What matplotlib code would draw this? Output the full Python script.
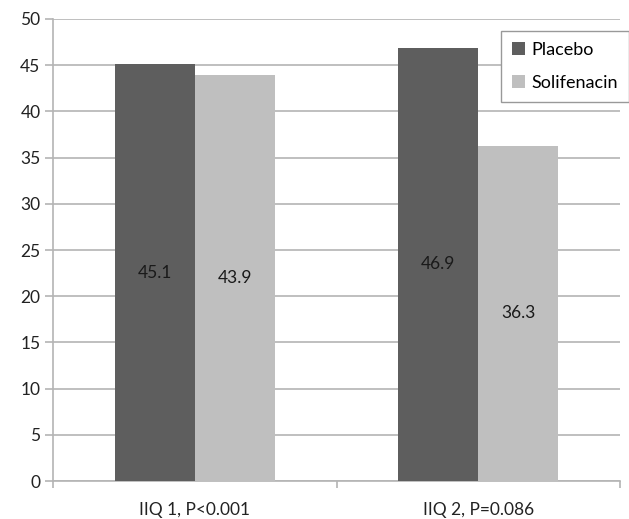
import matplotlib
matplotlib.use("Agg")
import matplotlib.pyplot as plt
import numpy as np
from matplotlib.patches import Patch

categories = ["IIQ 1, P<0.001", "IIQ 2, P=0.086"]
placebo = [45.1, 46.9]
solifenacin = [43.9, 36.3]
series_names = ["Placebo", "Solifenacin"]
yticks = [0, 5, 10, 15, 20, 25, 30, 35, 40, 45, 50]

plt.rcParams['font.family'] = ['Lato', 'DejaVu Sans']

fig = plt.figure(figsize=(6.29, 5.19), dpi=100)
ax = fig.add_axes([0.0843, 0.0732, 0.9014, 0.8902])

c_dark = "#5e5e5e"
c_light = "#bfbfbf"
grid_c = "#b4b4b4"

x = np.arange(len(categories))
w = 0.282
ax.bar(x - w/2, placebo, w, color=c_dark, zorder=3)
ax.bar(x + w/2, solifenacin, w, color=c_light, zorder=3)

for xi, v in zip(x - w/2, placebo):
    ax.text(xi, v/2, f"{v}", ha="center", va="center", fontsize=12.5, color="#1a1a1a", zorder=4)
for xi, v in zip(x + w/2, solifenacin):
    ax.text(xi, v/2, f"{v}", ha="center", va="center", fontsize=12.5, color="#1a1a1a", zorder=4)

ax.set_xlim(-0.5, 1.5)
ax.set_ylim(0, 50)
ax.set_yticks(yticks)
ax.set_yticklabels([str(t) for t in yticks], fontsize=12.5, color="#222222")
ax.yaxis.grid(True, color=grid_c, linewidth=1.2, zorder=0)
ax.set_axisbelow(True)

ax.set_xticks(x)
ax.set_xticklabels(categories, fontsize=12.5, color="#222222")
ax.tick_params(axis='x', which='major', length=0, pad=15)
ax.set_xticks([-0.5, 0.5, 1.5], minor=True)
ax.tick_params(axis='x', which='minor', length=5, color=grid_c, width=1.2)
ax.tick_params(axis='y', length=6, color=grid_c, width=1.2, pad=3)

for s in ["top", "right"]:
    ax.spines[s].set_visible(False)
for s in ["left", "bottom"]:
    ax.spines[s].set_color(grid_c)
    ax.spines[s].set_linewidth(1.2)

handles = [Patch(facecolor=c_dark, label=series_names[0]),
           Patch(facecolor=c_light, label=series_names[1])]
leg = ax.legend(handles=handles, loc="upper right", bbox_to_anchor=(1.016, 0.974),
                fancybox=False, edgecolor="#999999", fontsize=13,
                handlelength=0.75, handleheight=0.75, handletextpad=0.35,
                borderpad=0.6, labelspacing=0.95, framealpha=1, borderaxespad=0)
leg.get_frame().set_linewidth(1.0)

fig.savefig("out.png", dpi=100)
